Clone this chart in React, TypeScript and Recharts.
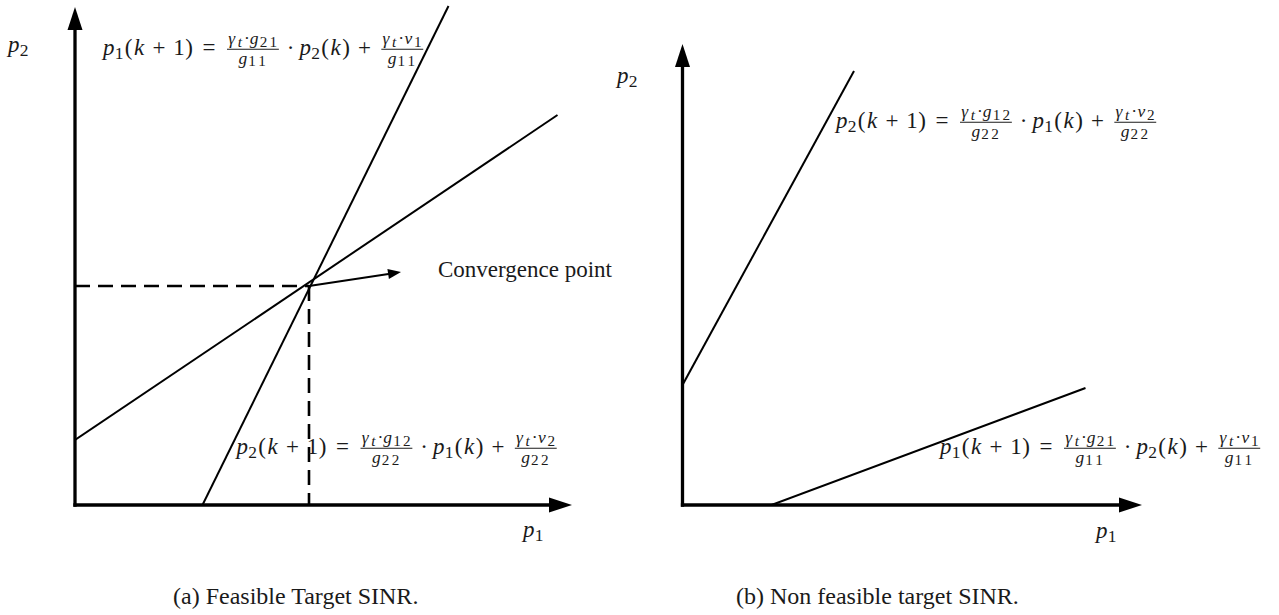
import React from 'react';
import { LineChart, Line, XAxis, YAxis, ReferenceLine, ReferenceDot } from 'recharts';

const MATH_FONT = '"Liberation Serif", "Times New Roman", serif';
const INK = '#1a1a1a';
const MATH_SIZE = 23;

// (a) feasible target: both best-response lines cross in the first quadrant
const feasibleP2Line = [{ x: 2.55, y: 0 }, { x: 7.47, y: 9.98 }];
const feasibleP1Line = [{ x: 0, y: 1.3 }, { x: 9.65, y: 7.8 }];
const feasiblePoint = { x: 4.68, y: 4.38 };
const feasiblePointer = { x: 6.52, y: 4.66 };
const feasibleAxisEnd = { x: 9.94, y: 9.96 };

// (b) non feasible target: the lines diverge
const infeasibleP2Line = [{ x: 0, y: 2.4 }, { x: 3.43, y: 8.68 }];
const infeasibleP1Line = [{ x: 1.78, y: 0 }, { x: 8.06, y: 2.34 }];
const infeasibleAxisEnd = { x: 9.19, y: 9.22 };

type Part = string | { num: string; den: string };

const p1Update: Part[] = ['p_1(k+1)=', { num: 'γ_t·g_{21}', den: 'g_{11}' }, '·p_2(k)+', { num: 'γ_t·ν_1', den: 'g_{11}' }];
const p2Update: Part[] = ['p_2(k+1)=', { num: 'γ_t·g_{12}', den: 'g_{22}' }, '·p_1(k)+', { num: 'γ_t·ν_2', den: 'g_{22}' }];

// advance widths (em) of the TeX math fonts, so spacing reads like the typeset formula;
// the smaller optical sizes run wider, hence the per-level factor
const ADVANCE: Record<string, number> = {
  p: 0.503, k: 0.521, g: 0.477, t: 0.361, 'γ': 0.518, 'ν': 0.485,
  '(': 0.389, ')': 0.389, '+': 0.778, '=': 0.778, '·': 0.278,
};
const LEVEL_SIZE = [1, 0.76, 0.66];
const LEVEL_SCALE = [1, 1.02, 1.3];

const ctx = typeof document !== 'undefined' ? document.createElement('canvas').getContext('2d') : null;
function textWidth(text: string, size: number, italic: boolean) {
  if (!ctx) return text.length * size * 0.5;
  ctx.font = `${italic ? 'italic ' : ''}${size}px ${MATH_FONT}`;
  return ctx.measureText(text).width;
}

type Glyph = { text: string; x: number; y: number; size: number; italic: boolean };

function layoutRow(src: string, size: number, x: number, y: number, level: number, out: Glyph[]): number {
  let i = 0;
  while (i < src.length) {
    const ch = src[i++];
    const italic = /[a-zγν]/.test(ch);
    const op = level === 0 && '+=·'.includes(ch);
    const gap = op ? size * (ch === '=' ? 0.2778 : 0.2222) : 0;
    x += gap;
    const w = textWidth(ch, size, italic);
    const adv = Math.max((ADVANCE[ch] ?? 0.5) * size * LEVEL_SCALE[level], w);
    out.push({ text: ch, x: x + (adv - w) / 2, y, size, italic });
    x += adv + gap;
    if (src[i] === '_') {
      i++;
      let sub = src[i++];
      if (sub === '{') {
        const end = src.indexOf('}', i);
        sub = src.slice(i, end);
        i = end + 1;
      }
      const subSize = size * LEVEL_SIZE[level + 1] / LEVEL_SIZE[level];
      x = layoutRow(sub, subSize, x, y + size * 0.17, level + 1, out) + 0.6;
    }
  }
  return x;
}

function layoutMath(parts: Part[], size: number, x0: number, y: number) {
  const glyphs: Glyph[] = [];
  const bars: { x1: number; x2: number; y: number }[] = [];
  let x = x0;
  for (const part of parts) {
    if (typeof part === 'string') {
      x = layoutRow(part, size, x, y, 0, glyphs);
      continue;
    }
    const s = size * LEVEL_SIZE[1];
    const numW = layoutRow(part.num, s, 0, 0, 1, []);
    const denW = layoutRow(part.den, s, 0, 0, 1, []);
    const w = Math.max(numW, denW);
    x += size * 0.12;
    layoutRow(part.num, s, x + (w - numW) / 2, y - size * 0.47, 1, glyphs);
    layoutRow(part.den, s, x + (w - denW) / 2, y + size * 0.37, 1, glyphs);
    bars.push({ x1: x, x2: x + w, y: y - size * 0.25 });
    x += w + size * 0.12;
  }
  return { glyphs, bars };
}

function MathText({ cx, cy, parts, size = MATH_SIZE }: { cx: number; cy: number; parts: Part[]; size?: number }) {
  const { glyphs, bars } = layoutMath(parts, size, cx, cy);
  return (
    <g>
      <text fill={INK} fontFamily={MATH_FONT}>
        {glyphs.map((g, i) => (
          <tspan key={i} x={g.x} y={g.y} fontSize={g.size} fontStyle={g.italic ? 'italic' : 'normal'}>
            {g.text}
          </tspan>
        ))}
      </text>
      {bars.map((b, i) => (
        <line key={i} x1={b.x1} x2={b.x2} y1={b.y} y2={b.y} stroke={INK} strokeWidth={1.1} />
      ))}
    </g>
  );
}

const mathAt = (parts: Part[]) => (props: any) => <MathText cx={props.cx} cy={props.cy} parts={parts} />;

const plainAt = (label: string, size = 23) => (props: any) => (
  <text x={props.cx} y={props.cy} fill={INK} fontFamily={MATH_FONT} fontSize={size}>
    {label}
  </text>
);

// segment with a filled triangular head at its end point
const arrowShape = (width: number, headLen: number, headWidth: number, cap: 'butt' | 'square') => (props: any) => {
  const { x1, y1, x2, y2 } = props;
  const len = Math.hypot(x2 - x1, y2 - y1) || 1;
  const ux = (x2 - x1) / len;
  const uy = (y2 - y1) / len;
  const bx = x2 - ux * headLen;
  const by = y2 - uy * headLen;
  const nx = (-uy * headWidth) / 2;
  const ny = (ux * headWidth) / 2;
  return (
    <g>
      <line x1={x1} y1={y1} x2={bx + ux * 2} y2={by + uy * 2} stroke="#000" strokeWidth={width} strokeLinecap={cap} />
      <polygon points={`${x2},${y2} ${bx + nx},${by + ny} ${bx - nx},${by - ny}`} fill="#000" />
    </g>
  );
};

const axisArrow = arrowShape(3.3, 23, 15, 'square');

const seriesProps = { dataKey: 'y', stroke: '#000', dot: false, activeDot: false, isAnimationActive: false } as const;

function FeasiblePanel() {
  const P = feasiblePoint;
  return (
    <LineChart width={660} height={615} margin={{ top: 5, right: 85, bottom: 110, left: 75 }}>
      <XAxis type="number" dataKey="x" domain={[0, 10]} allowDataOverflow hide />
      <YAxis type="number" domain={[0, 10]} allowDataOverflow hide />
      <Line {...seriesProps} data={[{ x: 0, y: P.y }, { x: P.x, y: P.y }]} strokeWidth={2.6} strokeDasharray="15 8" />
      <Line {...seriesProps} data={[{ x: P.x, y: P.y }, { x: P.x, y: 0 }]} strokeWidth={2.6} strokeDasharray="15 8" />
      <Line {...seriesProps} data={feasibleP2Line} strokeWidth={2} />
      <Line {...seriesProps} data={feasibleP1Line} strokeWidth={2} />
      <ReferenceLine segment={[P, feasiblePointer]} ifOverflow="visible" shape={arrowShape(2, 13, 10, 'butt')} />
      <ReferenceLine segment={[{ x: 0, y: 0 }, { x: feasibleAxisEnd.x, y: 0 }]} ifOverflow="visible" shape={axisArrow} />
      <ReferenceLine segment={[{ x: 0, y: 0 }, { x: 0, y: feasibleAxisEnd.y }]} ifOverflow="visible" shape={axisArrow} />
      <ReferenceDot x={-1.34} y={9.06} r={0} ifOverflow="visible" shape={mathAt(['p_2'])} />
      <ReferenceDot x={8.96} y={-0.64} r={0} ifOverflow="visible" shape={mathAt(['p_1'])} />
      <ReferenceDot x={0.56} y={9.0} r={0} ifOverflow="visible" shape={mathAt(p1Update)} />
      <ReferenceDot x={3.23} y={1.02} r={0} ifOverflow="visible" shape={mathAt(p2Update)} />
      <ReferenceDot x={7.26} y={4.56} r={0} ifOverflow="visible" shape={plainAt('Convergence point')} />
      <ReferenceDot x={1.96} y={-1.98} r={0} ifOverflow="visible" shape={plainAt('(a) Feasible Target SINR.', 24)} />
    </LineChart>
  );
}

function InfeasiblePanel() {
  return (
    <LineChart width={679} height={615} margin={{ top: 5, right: 96.5, bottom: 110, left: 82.5 }}>
      <XAxis type="number" dataKey="x" domain={[0, 10]} allowDataOverflow hide />
      <YAxis type="number" domain={[0, 10]} allowDataOverflow hide />
      <Line {...seriesProps} data={infeasibleP2Line} strokeWidth={2} />
      <Line {...seriesProps} data={infeasibleP1Line} strokeWidth={2} />
      <ReferenceLine segment={[{ x: 0, y: 0 }, { x: infeasibleAxisEnd.x, y: 0 }]} ifOverflow="visible" shape={axisArrow} />
      <ReferenceLine segment={[{ x: 0, y: 0 }, { x: 0, y: infeasibleAxisEnd.y }]} ifOverflow="visible" shape={axisArrow} />
      <ReferenceDot x={-1.31} y={8.44} r={0} ifOverflow="visible" shape={mathAt(['p_2'])} />
      <ReferenceDot x={8.27} y={-0.66} r={0} ifOverflow="visible" shape={mathAt(['p_1'])} />
      <ReferenceDot x={3.07} y={7.54} r={0} ifOverflow="visible" shape={mathAt(p2Update)} />
      <ReferenceDot x={5.15} y={1.02} r={0} ifOverflow="visible" shape={mathAt(p1Update)} />
      <ReferenceDot x={1.07} y={-1.98} r={0} ifOverflow="visible" shape={plainAt('(b) Non feasible target SINR.', 24)} />
    </LineChart>
  );
}

export default function App() {
  return (
    <div style={{ position: 'absolute', left: 0, top: 0, width: 1279, height: 615, background: '#fff' }}>
      <div style={{ position: 'absolute', left: 0, top: 0 }}>
        <FeasiblePanel />
      </div>
      <div style={{ position: 'absolute', left: 600, top: 0 }}>
        <InfeasiblePanel />
      </div>
    </div>
  );
}
